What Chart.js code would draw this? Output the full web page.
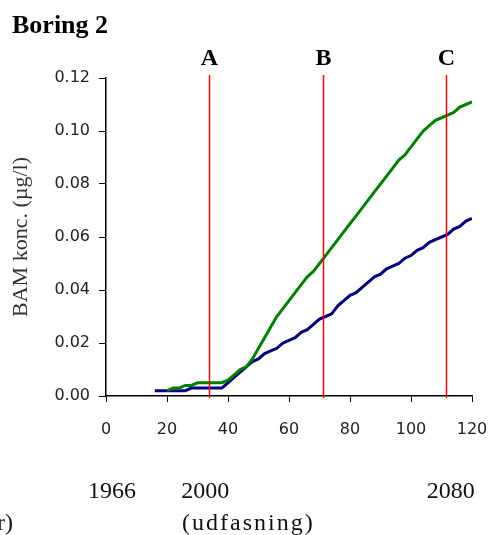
<!DOCTYPE html>
<html>
<head>
<meta charset="utf-8">
<script src="https://cdn.jsdelivr.net/npm/chart.js@4"></script>
<style>
  body { margin: 0; background: #fff; }
</style>
</head>
<body>
<canvas id="grafico" width="492" height="535"></canvas>
<script>
const years = [16, 18, 20, 22, 24, 26, 28, 30, 32, 34, 36, 38, 40, 42, 44, 46, 48, 50, 52, 54, 56, 58, 60, 62, 64, 66, 68, 70,
  72, 74, 76, 78, 80, 82, 84, 86, 88, 90, 92, 94, 96, 98, 100, 102, 104, 106, 108, 110, 112, 114, 116, 118, 120];
const blue = [0.002, 0.002, 0.002, 0.002, 0.002, 0.002, 0.003, 0.003, 0.003, 0.003, 0.003, 0.003, 0.005, 0.007, 0.009, 0.011,
  0.013, 0.014, 0.016, 0.017, 0.018, 0.020, 0.021, 0.022, 0.024, 0.025, 0.027, 0.029, 0.030, 0.031, 0.034, 0.036, 0.038,
  0.039, 0.041, 0.043, 0.045, 0.046, 0.048, 0.049, 0.050, 0.052, 0.053, 0.055, 0.056, 0.058, 0.059, 0.060, 0.061, 0.063,
  0.064, 0.066, 0.067];
const green = [null, null, 0.002, 0.003, 0.003, 0.004, 0.004, 0.005, 0.005, 0.005, 0.005, 0.005, 0.006, 0.008, 0.010, 0.011,
  0.014, 0.018, 0.022, 0.026, 0.030, 0.033, 0.036, 0.039, 0.042, 0.045, 0.047, 0.050, 0.053, 0.056, 0.059, 0.062, 0.065,
  0.068, 0.071, 0.074, 0.077, 0.080, 0.083, 0.086, 0.089, 0.091, 0.094, 0.097, 0.100, 0.102, 0.104, 0.105, 0.106, 0.107,
  0.109, 0.110, 0.111];

const markers = ['A', 'B', 'C'];
const markerX = [33.7, 71, 111.5];
const yearTexts = ['1966', '2000', '2080'];
const yearX = [2, 32.5, 113];

const toPoints = (vals) => years.map((x, i) => ({ x: x, y: vals[i] }));

// red lines, letters and the year texts under the axis
const extras = {
  id: 'extras',
  afterDraw(chart) {
    const c = chart.ctx;
    const xs = chart.scales.x;
    const area = chart.chartArea;
    c.save();
    c.fillStyle = '#000';
    c.font = 'bold 26px "Liberation Serif"';
    c.textAlign = 'left';
    c.textBaseline = 'alphabetic';
    c.fillText('Boring 2', 12, 33);

    markers.forEach((m, i) => {
      const px = Math.round(xs.getPixelForValue(markerX[i])) + 0.5;
      c.strokeStyle = '#ff0000';
      c.lineWidth = 1.5;
      c.beginPath();
      c.moveTo(px, area.top - 3);
      c.lineTo(px, area.bottom + 2);
      c.stroke();
      c.fillStyle = '#000';
      c.textAlign = 'center';
      c.font = 'bold 24px "Liberation Serif"';
      c.fillText(m, px, 65);
    });

    c.font = '24px "Liberation Serif"';
    c.fillStyle = '#111';
    yearTexts.forEach((t, i) => {
      c.textAlign = 'center';
      c.fillText(t, xs.getPixelForValue(yearX[i]), 498);
    });
    c.textAlign = 'right';
    c.fillText('(år)', 13, 530);
    c.letterSpacing = '2px';
    c.textAlign = 'left';
    c.fillText('(udfasning)', 182, 530);
    c.restore();
  }
};

new Chart(document.getElementById('grafico').getContext('2d'), {
  type: 'line',
  data: {
    datasets: [
      { data: toPoints(green), borderColor: '#008000', borderWidth: 3, pointRadius: 0, tension: 0 },
      { data: toPoints(blue), borderColor: '#000080', borderWidth: 3, pointRadius: 0, tension: 0 }
    ]
  },
  options: {
    responsive: false,
    animation: false,
    layout: { padding: { left: 0, top: 78, right: 20, bottom: 94 } },
    plugins: {
      legend: { display: false },
      tooltip: { enabled: false }
    },
    scales: {
      x: {
        type: 'linear',
        min: 0,
        max: 120,
        afterFit: (s) => { s.height = 45; s.paddingLeft = 0; s.paddingRight = 0; },
        ticks: { stepSize: 20, color: '#222', font: { family: 'DejaVu Sans', size: 16 }, padding: 18, maxRotation: 0 },
        grid: { drawOnChartArea: false, color: '#000', tickLength: 6 },
        border: { color: '#000', width: 1.5 }
      },
      y: {
        min: 0,
        max: 0.12,
        afterFit: (s) => { s.width = 106; },
        ticks: { stepSize: 0.02, color: '#222', font: { family: 'DejaVu Sans', size: 16 }, padding: 9,
          callback: (v) => v.toFixed(2) },
        grid: { drawOnChartArea: false, color: '#000', tickLength: 7 },
        border: { color: '#000', width: 1.5 },
        title: { display: true, text: 'BAM konc. (µg/l)', color: '#333',
          font: { family: 'Liberation Serif', size: 22 }, padding: { top: 8, bottom: 0 } }
      }
    }
  },
  plugins: [extras]
});
</script>
</body>
</html>
